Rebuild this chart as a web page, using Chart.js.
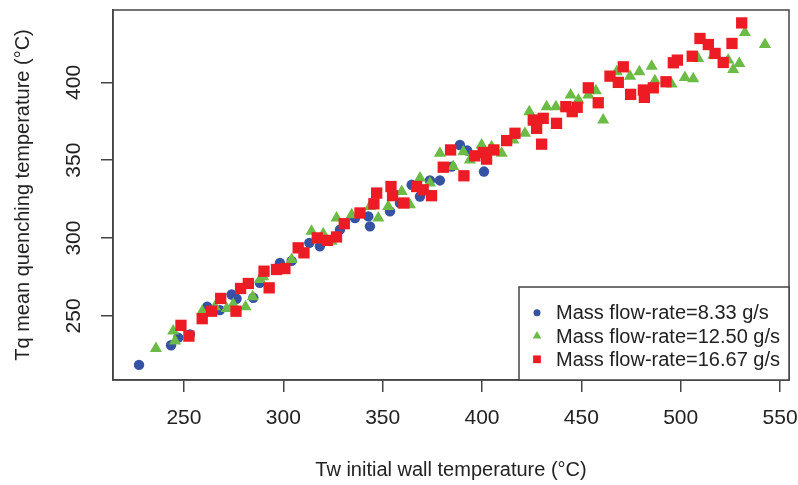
<!DOCTYPE html>
<html>
<head>
<meta charset="utf-8">
<script src="https://cdn.jsdelivr.net/npm/chart.js@4.4.1/dist/chart.umd.min.js"></script>
<style>
  html, body { margin: 0; background: #fff; }
</style>
</head>
<body>
<canvas id="quenchChart" width="798" height="485"></canvas>
<script>
const seriesLabels = ["Mass flow-rate=8.33 g/s", "Mass flow-rate=12.50 g/s", "Mass flow-rate=16.67 g/s"];

const blueX = [227.4, 243.5, 247.1, 253, 261.7, 268.1, 274, 276.5, 284.9, 288.2, 298.3, 304.2, 313.1, 318.4,
  328.5, 336.1, 343.6, 342.8, 353.7, 358.7, 364.6, 368.8, 373.8, 378.8, 384.7, 388.9, 392.6, 401];
const blueY = [218.5, 231.1, 236, 238.1, 255.9, 253.7, 263.7, 261, 261.6, 271.2, 284, 285.3, 296.9, 294.7,
  305.4, 312.9, 307.5, 313.9, 317.1, 322.5, 334.2, 326.7, 337, 337, 345.9, 359.8, 356.2, 342.7];

const greenX = [235.9, 244.6, 245.5, 259.2, 265.6, 271.5, 274.8, 281, 284.6, 288.2, 289.9, 304.2, 314.2, 320.1,
  324.3, 326.8, 334.4, 343.6, 347.8, 352.8, 359.6, 363.7, 368.8, 373.8, 378.8, 385.5, 390.6, 393.9, 399.8,
  404.8, 409.9, 415.7, 421.6, 423.8, 432.5, 437.2, 444.6, 448.5, 453.5, 457.3, 461, 467.8, 474.5, 479.2,
  485.4, 487, 495.4, 502.1, 506.3, 508.8, 516.4, 523.9, 526.4, 529.5, 532.3, 542.4];
const greenY = [229.1, 240.2, 233.8, 253, 255.8, 254.8, 257.5, 255.8, 262.3, 273.4, 275.1, 286.2, 304.3, 302.8,
  297.9, 312.9, 315, 320.3, 312.9, 320.3, 329.9, 321.4, 338.5, 335.3, 354.5, 345.9, 355.5, 350.2, 359.8,
  358.7, 354.5, 363, 367.3, 381.2, 384.4, 384.4, 391.9, 388.7, 391.9, 394.6, 375.8, 406.8, 404, 406.8,
  410.4, 401, 398.9, 403.2, 402.3, 415.4, 417.5, 414.3, 408.3, 412.2, 432, 424.3];

const redX = [248.5, 252.5, 259.2, 263.9, 268.5, 276.2, 278.5, 282.4, 290.3, 292.9, 296.6, 300.8, 307.5, 310.4,
  317.1, 322.1, 326.8, 330.7, 338.6, 345.6, 347, 354.2, 355, 360.7, 367.1, 370.4, 374.6, 380.5, 384.2,
  390.9, 396.4, 400.6, 402.3, 406, 412.4, 416.6, 425.8, 427.5, 430.8, 430, 437.5, 442.2, 445.4, 447.9,
  453.5, 458.5, 464.4, 468.6, 471.1, 474.8, 481.2, 481.7, 486.2, 492.6, 496.3, 498.3, 505.8, 509.7,
  513.9, 517.3, 521.4, 525.8, 530.7];
const redY = [243.9, 237, 248.2, 253, 261.2, 253, 267.6, 270.8, 278.7, 268, 279.8, 280.4, 293.7, 290.5,
  300.1, 298.5, 300.7, 309.2, 316.1, 322, 328.9, 333.1, 327.2, 322.5, 333.1, 331, 327.2, 345.5, 356.6,
  340, 352.8, 354.9, 350.7, 356.6, 362.6, 367.3, 375.8, 370.5, 376.9, 360.3, 373.7, 384.4, 381.2, 384,
  396.5, 386.9, 404, 400, 410, 392.3, 395.1, 390.4, 396.5, 400.4, 412.6, 414.3, 416.8, 428.2,
  424.3, 418.6, 412.8, 425, 438.2];

const xTicks = [250, 300, 350, 400, 450, 500, 550];
const yTicks = [250, 300, 350, 400];

const axisColor = "#444";
const textColor = "#222";
Chart.defaults.font.family = '"Liberation Sans", Arial, sans-serif';
Chart.defaults.color = textColor;

function toPoints(xs, ys) {
  return xs.map((x, i) => ({ x: x, y: ys[i] }));
}

// box round the plot, like R's default frame
const frame = {
  id: "frame",
  afterDraw(chart) {
    const { ctx, chartArea: a } = chart;
    ctx.save();
    ctx.strokeStyle = axisColor;
    ctx.lineWidth = 1.5;
    ctx.strokeRect(a.left, a.top, a.right - a.left, a.bottom - a.top);
    ctx.restore();
  }
};

// legend boxed in the lower right corner
const legendBox = {
  id: "legendBox",
  afterDraw(chart) {
    const { ctx, chartArea: a } = chart;
    const w = 270, h = 93;
    const x0 = a.right - w, y0 = a.bottom - h;
    ctx.save();
    ctx.fillStyle = "#fff";
    ctx.fillRect(x0, y0, w, h);
    ctx.strokeStyle = axisColor;
    ctx.lineWidth = 1.5;
    ctx.strokeRect(x0, y0, w, h);
    ctx.font = '20px "Liberation Sans", Arial, sans-serif';
    ctx.textBaseline = "middle";
    chart.data.datasets.forEach((ds, i) => {
      const cy = y0 + 25.7 + i * 23.3;
      ctx.fillStyle = ds.backgroundColor;
      Chart.helpers.drawPoint(ctx, { pointStyle: ds.pointStyle, radius: ds.legendRadius, borderWidth: 0, rotation: 0 }, x0 + 18, cy);
      ctx.fillStyle = textColor;
      ctx.fillText(ds.label, x0 + 37, cy + 1);
    });
    ctx.restore();
  }
};

new Chart(document.getElementById("quenchChart"), {
  type: "scatter",
  data: {
    datasets: [
      {
        label: seriesLabels[0],
        data: toPoints(blueX, blueY),
        pointStyle: "circle",
        pointRadius: 5.2,
        legendRadius: 3.5,
        backgroundColor: "#3552a3",
        borderWidth: 0,
        order: 2
      },
      {
        label: seriesLabels[1],
        data: toPoints(greenX, greenY),
        pointStyle: "triangle",
        pointRadius: 7,
        legendRadius: 5,
        backgroundColor: "#6cbb46",
        borderWidth: 0,
        order: 1
      },
      {
        label: seriesLabels[2],
        data: toPoints(redX, redY),
        pointStyle: "rect",
        pointRadius: 8,
        legendRadius: 5.5,
        backgroundColor: "#ed1c24",
        borderWidth: 0,
        order: 0
      }
    ]
  },
  options: {
    responsive: false,
    animation: false,
    devicePixelRatio: 1,
    layout: { padding: { top: 10, right: 9, left: 0, bottom: 0 } },
    plugins: {
      legend: { display: false },
      tooltip: { enabled: false }
    },
    scales: {
      x: {
        type: "linear",
        min: 214.3,
        max: 554.5,
        afterBuildTicks: (s) => { s.ticks = xTicks.map((v) => ({ value: v })); },
        afterFit: (s) => { s.height = 105; s.paddingLeft = 0; s.paddingRight = 0; },
        grid: { drawOnChartArea: false, tickLength: 12, color: axisColor, lineWidth: 1.5 },
        border: { color: axisColor, width: 1.5 },
        ticks: { padding: 14, font: { size: 21 }, color: textColor, autoSkip: false, maxRotation: 0 },
        title: {
          display: true,
          text: "Tw initial wall temperature (°C)",
          font: { size: 20 },
          color: textColor,
          padding: { top: 0, bottom: 3 }
        }
      },
      y: {
        type: "linear",
        min: 208.8,
        max: 446.5,
        afterBuildTicks: (s) => { s.ticks = yTicks.map((v) => ({ value: v })); },
        afterFit: (s) => { s.width = 113; s.paddingTop = 0; s.paddingBottom = 0; },
        grid: { drawOnChartArea: false, tickLength: 12, color: axisColor, lineWidth: 1.5 },
        border: { color: axisColor, width: 1.5 },
        ticks: {
          padding: 9,
          font: { size: 21 },
          color: textColor,
          autoSkip: false,
          minRotation: 90,
          maxRotation: 90,
          crossAlign: "center"
        },
        title: {
          display: true,
          text: "Tq mean quenching temperature (°C)",
          font: { size: 20 },
          color: textColor,
          padding: { top: 11, bottom: 0 }
        }
      }
    }
  },
  plugins: [frame, legendBox]
});
</script>
</body>
</html>
